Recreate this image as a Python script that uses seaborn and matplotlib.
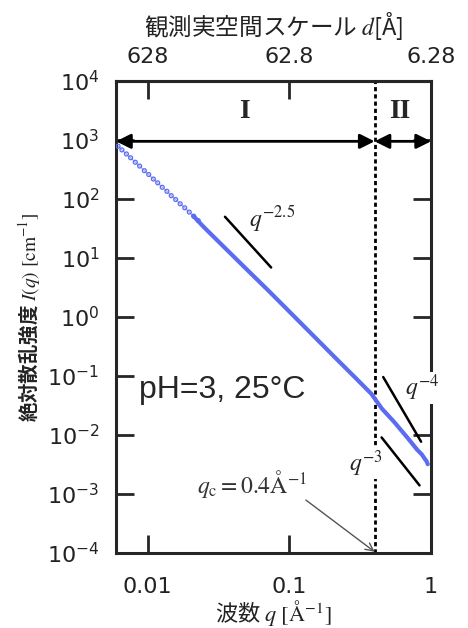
import numpy as np
import matplotlib as mpl
import matplotlib.pyplot as plt
import seaborn as sns
from matplotlib.ticker import NullLocator, LogLocator, FixedLocator

# 散乱データ (読み取り値)
q_low = [0.0062, 0.0066, 0.0071, 0.0076, 0.0082, 0.0088, 0.0095, 0.0102, 0.011, 0.0118,
         0.0127, 0.0137, 0.0147, 0.0158, 0.017, 0.0183, 0.0197, 0.0212, 0.0228]
I_low = [785, 680, 580, 500, 420, 362, 302, 260, 218, 188,
         158, 135, 114, 98, 83, 71, 60, 51, 43]
q_main = [0.021, 0.025, 0.035, 0.05, 0.0725, 0.1, 0.145, 0.212, 0.3, 0.379,
          0.45, 0.55, 0.687, 0.8, 0.86, 0.9, 0.93, 0.948]
I_main = [52, 33.3, 15.0, 6.45, 2.69, 1.24, 0.506, 0.202, 0.088, 0.050,
          0.028, 0.0166, 0.0088, 0.0056, 0.0047, 0.0040, 0.0036, 0.0032]

# 傾きの目安線
slope_q25 = [0.0352, 0.0745]
slope_I25 = [50, 6.9]
slope_q4 = [0.460, 0.851]
slope_I4 = [0.096, 0.0077]
slope_q3 = [0.448, 0.830]
slope_I3 = [0.0091, 0.0014]

q_c = 0.4
d_ticks = [628.32, 62.832, 6.2832]
d_labels = ['628', '62.8', '6.28']

sns.set_style('ticks')
plt.rcParams['font.family'] = ['DejaVu Sans', 'Noto Sans CJK JP']
cjk = ['Noto Sans CJK JP', 'DejaVu Sans']
blue = '#5b6cf2'

fig = plt.figure(figsize=(4.68, 6.28), dpi=100)
ax = fig.add_axes([0.248, 0.1194, 0.673, 0.7516])
ax.set_xscale('log')
ax.set_yscale('log')
ax.set_xlim(0.006, 1)
ax.set_ylim(1e-4, 1e4)

sns.lineplot(x=q_low, y=I_low, ax=ax, color=blue, linewidth=0.8, alpha=0.6, sort=False, zorder=3)
sns.scatterplot(x=q_low, y=I_low, ax=ax, marker='o', s=8, facecolor='none',
                edgecolor=blue, linewidth=0.9, zorder=3)
sns.lineplot(x=q_main, y=I_main, ax=ax, color=blue, linewidth=3, sort=False, zorder=3)

# 目安線
for qs, Is in [(slope_q25, slope_I25), (slope_q4, slope_I4), (slope_q3, slope_I3)]:
    ax.plot(qs, Is, color='black', lw=1.8, zorder=4)

ax.axvline(q_c, color='black', lw=2, ls=(0, (1.5, 1.1)), zorder=2)

# 領域 I, II の矢印
arr = dict(arrowstyle='<|-|>', color='black', lw=2, mutation_scale=22, shrinkA=0, shrinkB=0)
ax.annotate('', xy=(0.006, 950), xytext=(q_c, 950), arrowprops=arr)
ax.annotate('', xy=(q_c, 950), xytext=(1, 950), arrowprops=arr)
ax.text(0.0485, 3000, 'I', family='Liberation Serif', fontweight='bold', fontsize=20,
        ha='center', va='center')
ax.text(0.605, 3000, 'II', family='Liberation Serif', fontweight='bold', fontsize=20,
        ha='center', va='center')

# 傾きのラベル
ax.text(0.052, 46, r'$q^{\mathit{-2.5}}$', math_fontfamily='stix', fontsize=17,
        color='#222222', ha='left', va='center')
ax.text(0.655, 0.063, r'$q^{\mathit{-4}}$', math_fontfamily='stix', fontsize=17,
        color='#222222', ha='left', va='center', zorder=6, clip_on=False,
        bbox=dict(facecolor='white', edgecolor='none', pad=0.5))
ax.text(0.455, 0.0033, r'$q^{\mathit{-3}}$', math_fontfamily='stix', fontsize=17,
        color='#222222', ha='right', va='center', zorder=6,
        bbox=dict(facecolor='white', edgecolor='none', pad=0.5))

ax.text(0.0087, 0.043, 'pH=3, 25°C', family='Liberation Sans', fontsize=23,
        ha='left', va='baseline')

ax.text(0.0224, 0.00147, r'$q_{\mathrm{c}} = 0.4\mathrm{Å}^{-1}$', math_fontfamily='stix',
        fontsize=17, color='#333333', ha='left', va='center')
ax.annotate('', xy=(q_c, 1.05e-4), xytext=(0.131, 0.00079),
            arrowprops=dict(arrowstyle='->', color='#555555', lw=1, mutation_scale=14,
                            shrinkA=0, shrinkB=0))

# 軸
for sp in ax.spines.values():
    sp.set_linewidth(2.2)
ax.xaxis.set_major_locator(FixedLocator([0.01, 0.1, 1]))
ax.xaxis.set_major_formatter(mpl.ticker.FixedFormatter(['0.01', '0.1', '1']))
ax.yaxis.set_major_locator(LogLocator(base=10, numticks=20))
ax.xaxis.set_minor_locator(NullLocator())
ax.yaxis.set_minor_locator(NullLocator())
ax.tick_params(axis='x', direction='in', length=13, width=2, labelsize=16, pad=17,
               top=False, labelcolor='#222222')
ax.tick_params(axis='y', direction='in', length=13, width=2, labelsize=16, pad=12,
               right=True, labelcolor='#222222')

ax.set_xlabel(r'波数 $q\ [\mathrm{Å}^{-1}]$', family=cjk, math_fontfamily='stix',
              fontsize=16, labelpad=1, color='#222222')
ax.set_ylabel(r'絶対散乱強度 $I(q)\ [\mathrm{cm}^{-1}]$', family=cjk, math_fontfamily='stix',
              fontsize=14, fontweight='bold', color='#222222')
ax.yaxis.set_label_coords(-0.235, 0.5)

sec = ax.secondary_xaxis('top', functions=(lambda q: 2 * np.pi / q, lambda d: 2 * np.pi / d))
sec.set_xticks(d_ticks, d_labels)
sec.xaxis.set_minor_locator(NullLocator())
sec.tick_params(axis='x', direction='in', length=13, width=2, labelsize=16, pad=10,
                labelcolor='#222222')
sec.spines['top'].set_linewidth(2.2)
sec.set_xlabel(r'観測実空間スケール $d$[Å]', family=cjk, math_fontfamily='stix',
               fontsize=17, labelpad=9, color='#222222')

fig.savefig('out.png', dpi=100)
